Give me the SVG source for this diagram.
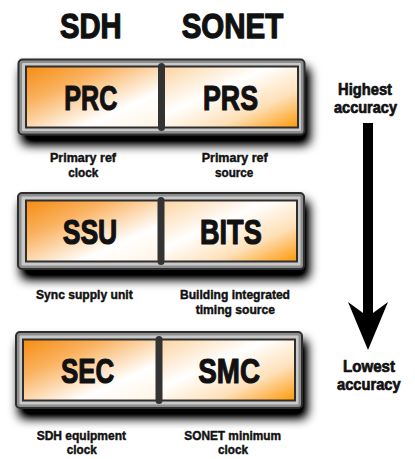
<svg xmlns="http://www.w3.org/2000/svg" width="415" height="459" viewBox="0 0 415 459">
  <style>
    .t { font-family: "Liberation Sans", Arial, sans-serif; font-weight: bold; fill: #111; stroke: #111; stroke-linejoin: round; }
    .title { font-size: 35px; stroke-width: 1.3; }
    .cell { font-size: 35px; stroke-width: 1.2; }
    .side { font-size: 16.5px; stroke-width: 0.7; }
    .lbl { font-size: 13px; stroke-width: 0.45; }
    .outer { fill: #8e8e8e; stroke: #2e2e2e; stroke-width: 2; }
    .band { fill: #c9c9c9; }
    .panel { stroke: #2e2e2e; stroke-width: 2; }
    .divider { fill: #333; }
  </style>
  <defs>
    <linearGradient id="gLeft" x1="0" y1="0" x2="1" y2="1">
      <stop offset="0" stop-color="#f68c12"/>
      <stop offset="0.3" stop-color="#fab260"/>
      <stop offset="0.7" stop-color="#ffffff"/>
      <stop offset="1" stop-color="#fff3e2"/>
    </linearGradient>
    <linearGradient id="gRight" x1="0" y1="0" x2="1" y2="1">
      <stop offset="0" stop-color="#fcd3a0"/>
      <stop offset="0.4" stop-color="#ffffff"/>
      <stop offset="0.7" stop-color="#fee0b8"/>
      <stop offset="1" stop-color="#ff9806"/>
    </linearGradient>
    <filter id="shadow" x="-20%" y="-30%" width="140%" height="190%">
      <feGaussianBlur in="SourceAlpha" stdDeviation="5.5"/>
      <feOffset dx="4" dy="9" result="b"/>
      <feComponentTransfer in="b" result="s">
        <feFuncA type="linear" slope="1.3"/>
      </feComponentTransfer>
      <feMerge>
        <feMergeNode in="s"/>
        <feMergeNode in="SourceGraphic"/>
      </feMerge>
    </filter>
  </defs>

  <!-- column headings -->
  <text class="t title" x="60" y="38" textLength="61.7" lengthAdjust="spacingAndGlyphs">SDH</text>
  <text class="t title" x="181.7" y="38" textLength="101.6" lengthAdjust="spacingAndGlyphs">SONET</text>

  <!-- tier 1: primary reference -->
  <g id="tier-primary">
    <g filter="url(#shadow)">
      <rect class="outer" x="18.5" y="59.5" width="286" height="75" rx="4"/>
    </g>
    <rect class="band" x="22" y="63" width="279" height="68" rx="1"/>
    <rect class="panel" x="26" y="66.5" width="136" height="61" fill="url(#gLeft)"/>
    <rect class="panel" x="162" y="66.5" width="136" height="61" fill="url(#gRight)"/>
    <rect class="divider" x="158" y="63" width="7" height="68" rx="3.5"/>
    <text class="t cell" x="64.3" y="110" textLength="53" lengthAdjust="spacingAndGlyphs">PRC</text>
    <text class="t cell" x="203" y="110" textLength="55" lengthAdjust="spacingAndGlyphs">PRS</text>
    <text class="t lbl" x="50" y="161.7" textLength="66" lengthAdjust="spacingAndGlyphs">Primary ref</text>
    <text class="t lbl" x="68.3" y="177" textLength="30" lengthAdjust="spacingAndGlyphs">clock</text>
    <text class="t lbl" x="201.7" y="161.7" textLength="66" lengthAdjust="spacingAndGlyphs">Primary ref</text>
    <text class="t lbl" x="215" y="177" textLength="38.3" lengthAdjust="spacingAndGlyphs">source</text>
  </g>

  <!-- tier 2: synchronisation supply -->
  <g id="tier-supply">
    <g filter="url(#shadow)">
      <rect class="outer" x="18" y="193" width="286" height="76" rx="4"/>
    </g>
    <rect class="band" x="21.5" y="196.5" width="279" height="69" rx="1"/>
    <rect class="panel" x="26" y="200.5" width="135" height="61" fill="url(#gLeft)"/>
    <rect class="panel" x="161" y="200.5" width="136" height="61" fill="url(#gRight)"/>
    <rect class="divider" x="157.5" y="197" width="7" height="68" rx="3.5"/>
    <text class="t cell" x="62.7" y="244" textLength="54.6" lengthAdjust="spacingAndGlyphs">SSU</text>
    <text class="t cell" x="200" y="244" textLength="61.7" lengthAdjust="spacingAndGlyphs">BITS</text>
    <text class="t lbl" x="36" y="299" textLength="96.7" lengthAdjust="spacingAndGlyphs">Sync supply unit</text>
    <text class="t lbl" x="180" y="299" textLength="110" lengthAdjust="spacingAndGlyphs">Building integrated</text>
    <text class="t lbl" x="195.7" y="314" textLength="79.3" lengthAdjust="spacingAndGlyphs">timing source</text>
  </g>

  <!-- tier 3: equipment clocks -->
  <g id="tier-equipment">
    <g filter="url(#shadow)">
      <rect class="outer" x="16" y="332" width="286" height="76" rx="4"/>
    </g>
    <rect class="band" x="19.5" y="335.5" width="279" height="69" rx="1"/>
    <rect class="panel" x="23" y="339.5" width="136" height="61" fill="url(#gLeft)"/>
    <rect class="panel" x="159" y="339.5" width="136" height="61" fill="url(#gRight)"/>
    <rect class="divider" x="155.5" y="336" width="7" height="68" rx="3.5"/>
    <text class="t cell" x="61" y="382.5" textLength="53.3" lengthAdjust="spacingAndGlyphs">SEC</text>
    <text class="t cell" x="198.3" y="382.5" textLength="61.7" lengthAdjust="spacingAndGlyphs">SMC</text>
    <text class="t lbl" x="36.7" y="440" textLength="89.3" lengthAdjust="spacingAndGlyphs">SDH equipment</text>
    <text class="t lbl" x="66.7" y="454" textLength="30" lengthAdjust="spacingAndGlyphs">clock</text>
    <text class="t lbl" x="184.3" y="440" textLength="96.7" lengthAdjust="spacingAndGlyphs">SONET minimum</text>
    <text class="t lbl" x="218" y="454" textLength="30" lengthAdjust="spacingAndGlyphs">clock</text>
  </g>

  <!-- accuracy scale -->
  <g id="scale-labels">
    <text class="t side" x="338" y="95" textLength="54" lengthAdjust="spacingAndGlyphs">Highest</text>
    <text class="t side" x="334" y="112.7" textLength="63" lengthAdjust="spacingAndGlyphs">accuracy</text>
    <text class="t side" x="343" y="372" textLength="52" lengthAdjust="spacingAndGlyphs">Lowest</text>
    <text class="t side" x="337" y="390" textLength="63.7" lengthAdjust="spacingAndGlyphs">accuracy</text>
  </g>
  <g id="connectors">
    <path d="M363 123 H373 V313 L388 302 L368 350 L348 302 L363 313 Z" fill="#000"/>
  </g>
</svg>
